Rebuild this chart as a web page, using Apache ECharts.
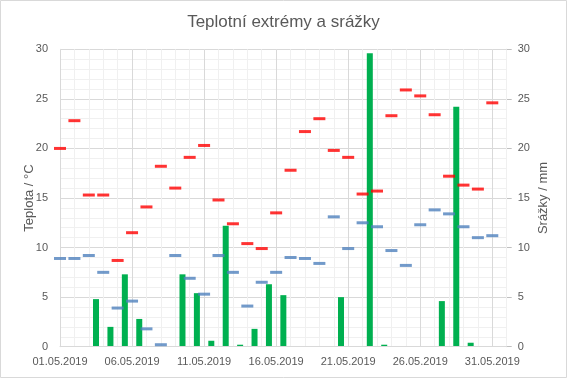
<!DOCTYPE html>
<html>
<head>
<meta charset="utf-8">
<script src="https://cdn.jsdelivr.net/npm/echarts@6/dist/echarts.min.js"></script>
<style>
html,body{margin:0;padding:0;background:#fff;}
#c{width:567px;height:378px;}
</style>
</head>
<body>
<div id="c"></div>
<script>
// Tick categories: 01.05.2019 ... 01.06.2019 (points sit on ticks)
var tickDates = [];
for (var d = 1; d <= 31; d++) tickDates.push((d < 10 ? '0' + d : '' + d) + '.05.2019');
tickDates.push('01.06.2019');
// Day categories for bars (between ticks)
var days = tickDates.slice(0, 31);

var maxTemp = [20.0, 22.8, 15.3, 15.3, 8.7, 11.5, 14.1, 18.2, 16.0, 19.1,
               20.3, 14.8, 12.4, 10.4, 9.9, 13.5, 17.8, 21.7, 23.0, 19.8,
               19.1, 15.4, 15.7, 23.3, 25.9, 25.3, 23.4, 17.2, 16.3, 15.9, 24.6];
var minTemp = [8.9, 8.9, 9.2, 7.5, 3.9, 4.6, 1.8, 0.2, 9.2, 6.9,
               5.3, 9.2, 7.5, 4.1, 6.5, 7.5, 9.0, 8.9, 8.4, 13.1,
               9.9, 12.5, 12.1, 9.7, 8.2, 12.3, 13.8, 13.4, 12.1, 11.0, 11.2];
var precip = [0, 0, 4.8, 2.0, 7.3, 2.8, 0, 0, 7.3, 5.4,
              0.6, 12.2, 0.2, 1.8, 6.3, 5.2, 0, 0, 0, 5.0,
              0, 29.6, 0.2, 0, 0, 0, 4.6, 24.2, 0.4, 0, 0];

var font = 'Liberation Sans';
var txt = '#595959';

var chart = echarts.init(document.getElementById('c'), null, {renderer: 'canvas'});
chart.setOption({
  animation: false,
  backgroundColor: '#fff',
  textStyle: {fontFamily: font},
  title: {
    text: 'Teplotní extrémy a srážky',
    left: 'center', top: 9,
    textStyle: {fontFamily: font, fontSize: 17, fontWeight: 'normal', color: txt}
  },
  graphic: [{
    type: 'rect', shape: {x: 0.5, y: 0.5, width: 566, height: 377},
    style: {fill: 'none', stroke: '#d9d9d9', lineWidth: 1}, silent: true, z: -1
  }],
  grid: {left: 60, right: 60.3, top: 49.3, bottom: 31.3},
  xAxis: [{
    type: 'category', data: tickDates, boundaryGap: false,
    axisLine: {lineStyle: {color: '#d9d9d9'}},
    axisTick: {show: false},
    axisLabel: {interval: 4, color: txt, fontSize: 11, margin: 10, fontFamily: font},
    splitLine: {show: true, interval: 4, lineStyle: {color: '#d9d9d9'}},
    z: 3
  }, {
    type: 'category', data: days, boundaryGap: true, position: 'bottom',
    axisLine: {show: false}, axisTick: {show: false}, axisLabel: {show: false},
    splitLine: {show: true, interval: 0, lineStyle: {color: '#f0f0f0'}},
    z: 1
  }],
  yAxis: [{
    type: 'value', min: 0, max: 30, interval: 5,
    name: 'Teplota / °C', nameLocation: 'middle', nameGap: 24, nameRotate: 90,
    nameMoveOverlap: false,
    nameTextStyle: {color: txt, fontSize: 13, fontFamily: font},
    axisLine: {show: true, lineStyle: {color: '#d9d9d9'}},
    axisTick: {show: false},
    axisLabel: {color: txt, fontSize: 11, margin: 12, fontFamily: font},
    splitLine: {show: true, lineStyle: {color: '#d9d9d9'}},
    minorTick: {show: false, splitNumber: 5},
    minorSplitLine: {show: true, lineStyle: {color: '#f0f0f0'}}
  }, {
    type: 'value', min: 0, max: 30, interval: 5, position: 'right',
    name: 'Srážky / mm', nameLocation: 'middle', nameGap: 30, nameRotate: 90,
    nameMoveOverlap: false,
    nameTextStyle: {color: txt, fontSize: 13, fontFamily: font},
    axisLine: {show: true, lineStyle: {color: '#bfbfbf'}},
    axisTick: {show: true, length: 5, lineStyle: {color: '#bfbfbf'}},
    axisLabel: {color: txt, fontSize: 11, margin: 11, fontFamily: font},
    splitLine: {show: false}
  }],
  series: [{
    name: 'Srážky', type: 'bar', xAxisIndex: 1, yAxisIndex: 1,
    data: precip, barWidth: 6, itemStyle: {color: '#00b050'}, z: 2
  }, {
    name: 'Max', type: 'scatter', xAxisIndex: 0, yAxisIndex: 0,
    data: maxTemp.map(function (v, i) { return [i, v]; }),
    symbol: 'rect', symbolSize: [12, 3], itemStyle: {color: '#ff0000'}, z: 3
  }, {
    name: 'Min', type: 'scatter', xAxisIndex: 0, yAxisIndex: 0,
    data: minTemp.map(function (v, i) { return [i, v]; }),
    symbol: 'rect', symbolSize: [12, 3], itemStyle: {color: '#4f81bd'}, z: 3
  }]
});
</script>
</body>
</html>
